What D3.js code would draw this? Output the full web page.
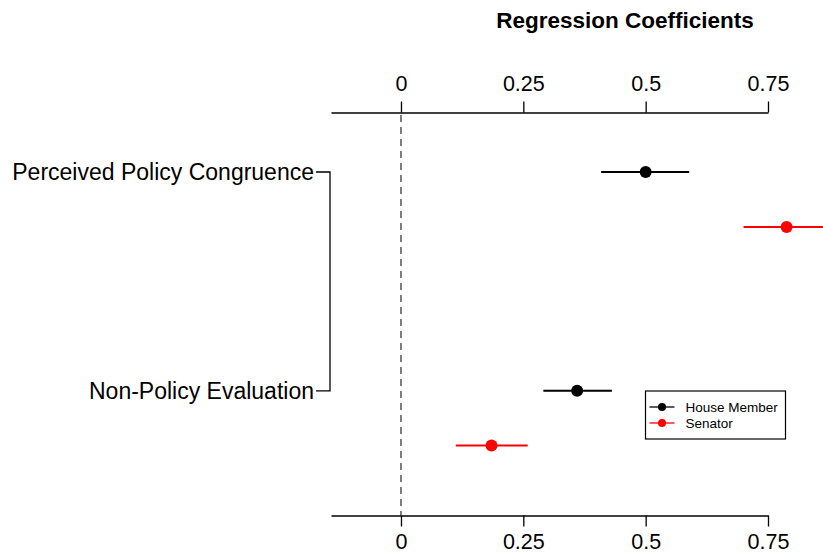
<!DOCTYPE html>
<html>
<head>
<meta charset="utf-8">
<script src="https://cdn.jsdelivr.net/npm/d3@7"></script>
<style>
  html, body { margin: 0; padding: 0; background: #fff; }
  svg { display: block; font-family: "Liberation Sans", Arial, Helvetica, sans-serif; }
</style>
</head>
<body>
<svg id="chart" width="823" height="554"></svg>
<script>
// Coefficient estimates with confidence intervals
const groups = ["Perceived Policy Congruence", "Non-Policy Evaluation"];
const series = ["House Member", "Senator"];
const colors = ["#000000", "#ff0000"];
const estimates = [[0.50, 0.788], [0.36, 0.185]];   // [group][series]
const lower     = [[0.409, 0.700], [0.291, 0.112]];
const upper     = [[0.589, 0.876], [0.431, 0.259]];
const tickValues = [0, 0.25, 0.5, 0.75];
const tickLabels = ["0", "0.25", "0.5", "0.75"];

const svg = d3.select("#chart");

const x = d3.scaleLinear().domain([-0.143, 0.75]).range([331, 768]);
// vertical row layout: each group has a House row and a Senate row
const y = d3.scaleLinear().domain([0, 3]).range([172, 445.5]);
const rowPos = (g, s) => g === 0 ? (s === 0 ? 0 : 0.603) : (s === 0 ? 2.4 : 3);

// title
svg.append("text")
  .attr("x", 625).attr("y", 28)
  .attr("text-anchor", "middle")
  .attr("font-weight", "bold").attr("font-size", 22.5)
  .text("Regression Coefficients");

// top axis
const topAxis = d3.axisTop(x).tickValues(tickValues)
  .tickFormat((d, i) => tickLabels[i]).tickSizeInner(11).tickSizeOuter(0).tickPadding(11);
const gTop = svg.append("g").attr("transform", "translate(0,112.5)").call(topAxis);

// bottom axis
const bottomAxis = d3.axisBottom(x).tickValues(tickValues)
  .tickFormat((d, i) => tickLabels[i]).tickSizeInner(11).tickSizeOuter(0).tickPadding(7);
const gBot = svg.append("g").attr("transform", "translate(0,515.5)").call(bottomAxis);

[gTop, gBot].forEach(g => {
  g.select(".domain").attr("stroke", "#000").attr("stroke-width", 1.3);
  g.selectAll(".tick line").attr("stroke", "#000").attr("stroke-width", 1.3);
  g.selectAll(".tick text").attr("font-size", 21.5).attr("fill", "#000")
    .attr("font-family", "Liberation Sans, Arial, sans-serif");
});

// zero reference line
svg.append("line")
  .attr("x1", x(0)).attr("x2", x(0))
  .attr("y1", 115).attr("y2", 515)
  .attr("stroke", "#555").attr("stroke-width", 1.5)
  .attr("stroke-dasharray", "7,5");

// group bracket
const bx = 330;
svg.append("path")
  .attr("d", `M${bx - 14},${y(0)}H${bx}V${y(2.4)}H${bx - 14}`)
  .attr("fill", "none").attr("stroke", "#000").attr("stroke-width", 1.3);

groups.forEach((name, g) => {
  svg.append("text")
    .attr("x", bx - 16).attr("y", y(g === 0 ? 0 : 2.4))
    .attr("dy", "0.35em")
    .attr("text-anchor", "end").attr("font-size", 23)
    .text(name);
});

// interval lines and points
groups.forEach((name, g) => {
  series.forEach((s, k) => {
    const yy = y(rowPos(g, k));
    svg.append("line")
      .attr("x1", x(lower[g][k])).attr("x2", x(upper[g][k]))
      .attr("y1", yy).attr("y2", yy)
      .attr("stroke", colors[k]).attr("stroke-width", 2);
    svg.append("circle")
      .attr("cx", x(estimates[g][k])).attr("cy", yy).attr("r", 6)
      .attr("fill", colors[k]);
  });
});

// legend
const lg = svg.append("g").attr("transform", "translate(645.5,391)");
lg.append("rect").attr("width", 140).attr("height", 48)
  .attr("fill", "#fff").attr("stroke", "#000").attr("stroke-width", 1.2);
series.forEach((s, k) => {
  const yy = 16 + k * 16;
  lg.append("line").attr("x1", 4).attr("x2", 29).attr("y1", yy).attr("y2", yy)
    .attr("stroke", colors[k]).attr("stroke-width", 1.3);
  lg.append("circle").attr("cx", 16.5).attr("cy", yy).attr("r", 4).attr("fill", colors[k]);
  lg.append("text").attr("x", 40).attr("y", yy).attr("dy", "0.35em")
    .attr("font-size", 13.5).text(s);
});
</script>
</body>
</html>
